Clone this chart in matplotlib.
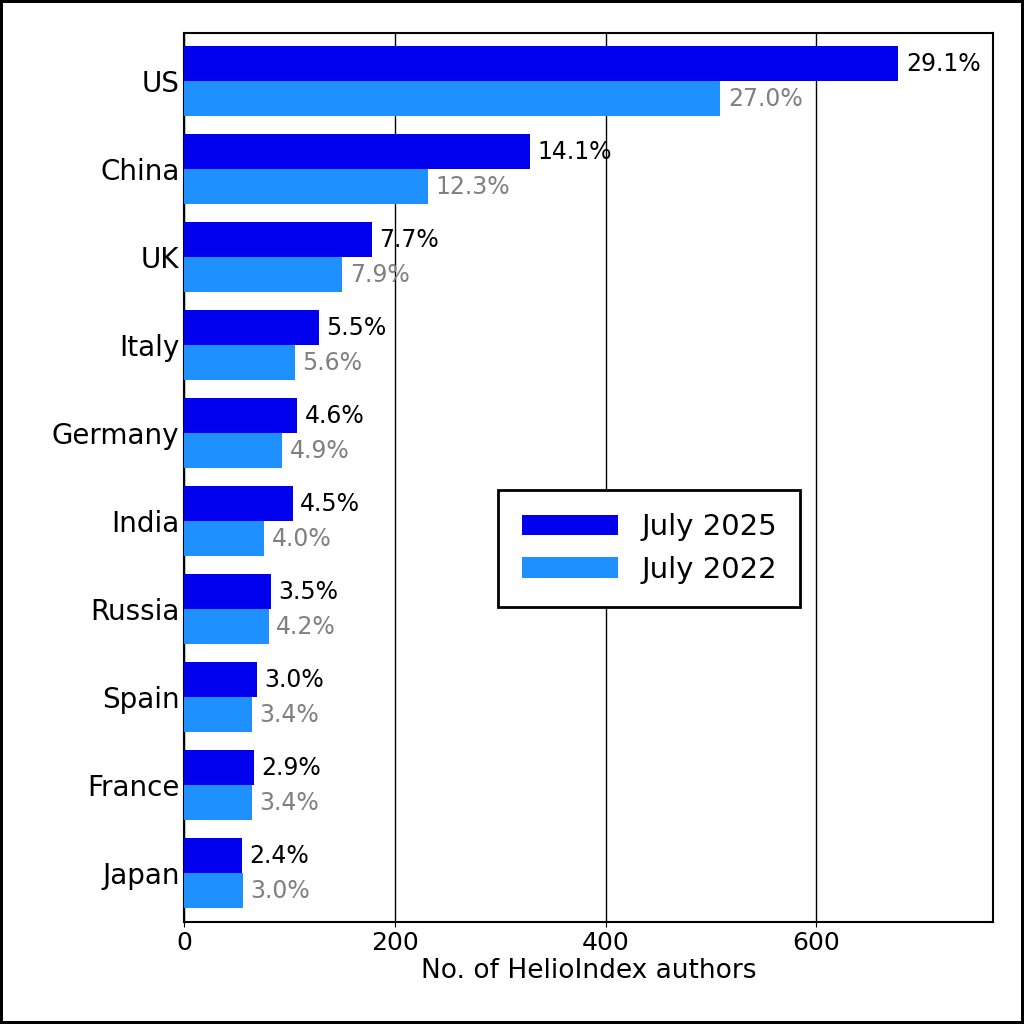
import numpy as np
import matplotlib.pyplot as plt

countries = ["US", "China", "UK", "Italy", "Germany", "India", "Russia", "Spain", "France", "Japan"]
authors_2025 = [678, 328, 178, 128, 107, 103, 82, 69, 66, 55]
authors_2022 = [509, 231, 150, 105, 93, 76, 80, 64, 64, 56]
pct_2025 = ["29.1%", "14.1%", "7.7%", "5.5%", "4.6%", "4.5%", "3.5%", "3.0%", "2.9%", "2.4%"]
pct_2022 = ["27.0%", "12.3%", "7.9%", "5.6%", "4.9%", "4.0%", "4.2%", "3.4%", "3.4%", "3.0%"]

fig = plt.figure(figsize=(10.24, 10.24), dpi=100, edgecolor="black", linewidth=4)
ax = fig.add_axes([0.18, 0.1, 0.79, 0.868])

y = np.arange(len(countries))
h = 0.4
ax.barh(y - h / 2, authors_2025, height=h, color="#0000ee", label="July 2025", zorder=3)
ax.barh(y + h / 2, authors_2022, height=h, color="#1e90ff", label="July 2022", zorder=3)
for yi, v, t in zip(y, authors_2025, pct_2025):
    ax.text(v + 7, yi - h / 2, t, va="center", ha="left", fontsize=17, color="black", zorder=4)
for yi, v, t in zip(y, authors_2022, pct_2022):
    ax.text(v + 7, yi + h / 2, t, va="center", ha="left", fontsize=17, color="gray", zorder=4)

ax.set_yticks(y)
ax.set_yticklabels(countries, fontsize=20)
ax.set_ylim(len(countries) - 0.5 + 0.05, -0.5 - 0.05)
ax.set_xlim(0, 768)
ax.set_xticks([0, 200, 400, 600])
ax.tick_params(axis="x", labelsize=18)
ax.tick_params(axis="y", length=0)
ax.xaxis.grid(True, color="black", linewidth=1, zorder=0)
ax.set_xlabel("No. of HelioIndex authors", fontsize=19, labelpad=2)
for s in ax.spines.values():
    s.set_linewidth(1.5)

leg = ax.legend(loc="center left", bbox_to_anchor=(0.37, 0.42), fontsize=21, fancybox=False,
                edgecolor="black", framealpha=1, borderpad=0.8, handlelength=3.3)
leg.get_frame().set_linewidth(2)

fig.savefig("out.png", dpi=100, edgecolor=fig.get_edgecolor())
